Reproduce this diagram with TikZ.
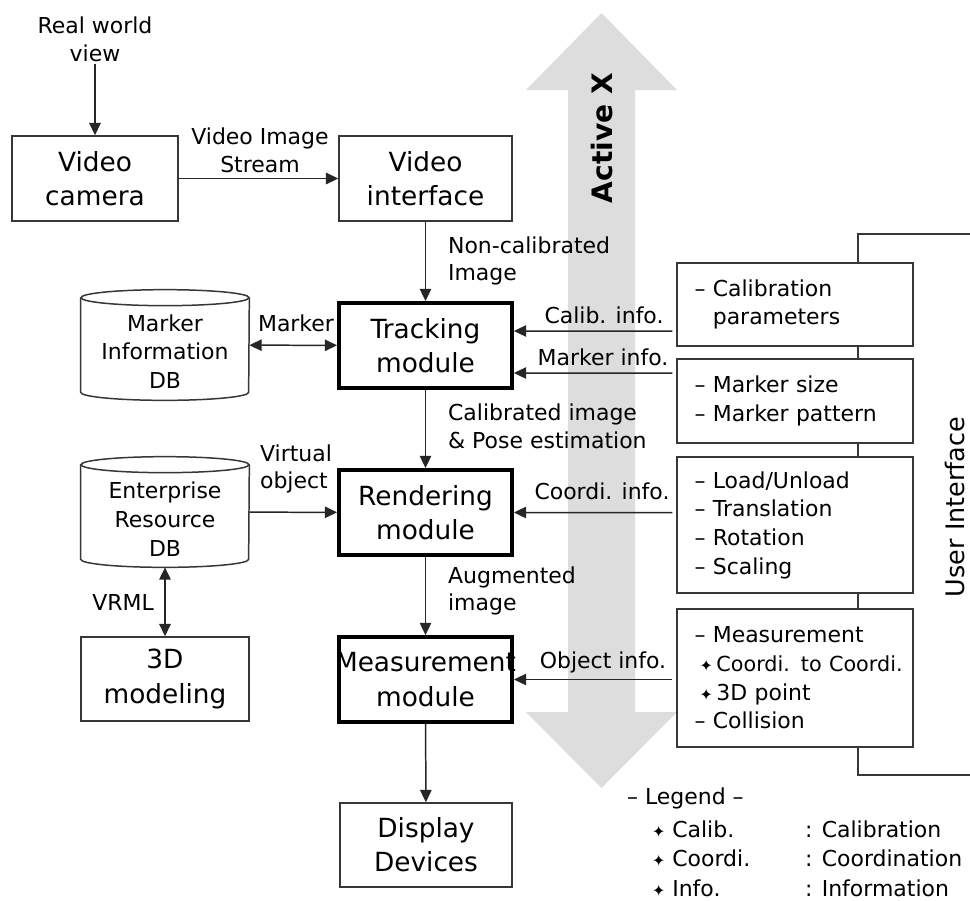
\documentclass[tikz,border=0pt]{standalone}
\usepackage{fontspec}
\setmainfont{DejaVu Sans}
\usetikzlibrary{arrows.meta,positioning,calc}
\definecolor{activex}{RGB}{221,221,221}
\definecolor{boxline}{RGB}{55,55,55}

\begin{document}
\begin{tikzpicture}[x=0.02cm, y=-0.02cm,
    box/.style={draw=boxline, line width=0.85pt, fill=white, align=center, inner sep=0pt,
      minimum width=3.46cm, minimum height=1.7cm, font=\fontsize{15}{19.5}\selectfont},
    module/.style={box, draw=black, line width=2.2pt},
    dbshape/.style={inner sep=0pt, minimum width=3.36cm, minimum height=2.2cm},
    dbtext/.style={align=center, inner sep=0pt, font=\fontsize{12.5}{16.4}\selectfont},
    uibox/.style={draw=boxline, line width=0.85pt, fill=white, minimum width=4.72cm,
      text width=4.02cm, inner xsep=0.35cm, inner ysep=0pt, align=left,
      font=\fontsize{12.5}{16.3}\selectfont},
    lbl/.style={align=left, inner sep=1pt, font=\fontsize{12.5}{15.8}\selectfont},
    lgd/.style={anchor=west, inner sep=1pt, font=\fontsize{12.5}{15}\selectfont},
    link/.style={draw=black!85, line width=0.85pt, -{Triangle[length=7pt,width=6.5pt]}},
    twoway/.style={link, {Triangle[length=7pt,width=6.5pt]}-{Triangle[length=7pt,width=6.5pt]}}
  ]

  % Page
  \fill[white] (0,0) rectangle (970,900);
  \useasboundingbox (0,0) rectangle (970,900);

  % Active X arrow
  \fill[activex] (601.5,13) -- (677,90) -- (635,90) -- (635,712) -- (677,712) -- (601.5,788)
    -- (526,712) -- (568,712) -- (568,90) -- (526,90) -- cycle;
  \node[rotate=90, font=\fontsize{16}{16}\selectfont\bfseries] (actx) at (602,138) {Active X};

  % User interface bracket
  \draw[boxline, line width=0.85pt] (975,234) -- (858,234) -- (858,775) -- (975,775);
  \node[rotate=90, inner sep=0pt, font=\fontsize{14.5}{14.5}\selectfont] (uif) at (955,507) {User Interface};

  % Main chain
  \node[lbl, align=center, font=\fontsize{12.5}{16}\selectfont] (rwv) at (95,39) {Real world\\view};
  \node[box, minimum width=3.32cm] (cam) at (95,178.5) {Video\\camera};
  \node[box] (vif) at (425.5,178.5) {Video\\interface};
  \node[module] (trk) at (425.5,345.5) {Tracking\\module};
  \node[module] (rnd) at (425.5,512.5) {Rendering\\module};
  \node[module] (msr) at (425.5,679.5) {\makebox[3.4cm]{Measurement}\\module};
  \node[box, minimum width=3.44cm, minimum height=1.68cm] (dsp) at (426,845) {Display\\Devices};

  % Databases
  \node[dbshape] (mdb) at (165,345) {};
  \node[dbtext] (mdbtxt) at (165,351.5) {Marker\\Information\\DB};
  \node[dbshape] (edb) at (165,512) {};
  \node[dbtext] (edbtxt) at (165,519) {Enterprise\\Resource\\DB};
  \foreach \db in {mdb,edb} {
    \draw[boxline, line width=0.85pt] ($(\db.north west)+(0,8)$) -- ($(\db.south west)+(0,-8)$)
      arc[start angle=180, end angle=360, x radius=1.68cm, y radius=0.16cm]
      -- ($(\db.north east)+(0,8)$);
    \draw[boxline, line width=0.85pt] ($(\db.north)+(0,8)$) ellipse[x radius=1.68cm, y radius=0.16cm];
  }
  \node[box, minimum width=3.36cm, minimum height=1.68cm] (mdl) at (165,679) {3D\\modeling};

  % Right panel
  \node[uibox, minimum height=1.66cm] (cal) at (795,304.5) {– Calibration\\\phantom{– }parameters};
  \node[uibox, minimum height=1.68cm] (mks) at (795,401) {– Marker size\\– Marker pattern};
  \node[uibox, minimum height=2.72cm] (lod) at (795,525) {– Load/Unload\\– Translation\\– Rotation\\– Scaling};
  \node[uibox, minimum height=2.76cm] (mea) at (795,678) {– Measurement\\
    \mbox{\hspace*{0.1cm}{\fontsize{9}{9}\selectfont ✦}\,{\fontsize{11.8}{16}\selectfont Coordi. to Coordi.}}\\
    \mbox{\hspace*{0.1cm}{\fontsize{9}{9}\selectfont ✦}\,3D point}\\– Collision};

  % Connectors
  \draw[link] (rwv) -- (cam);
  \draw[link] (cam) -- (vif);
  \draw[link] (vif) -- (trk);
  \draw[link] (trk) -- (rnd);
  \draw[link] (rnd) -- (msr);
  \draw[link] (msr) -- (dsp);
  \draw[twoway] (mdb) -- (trk);
  \draw[link] (edb) -- (rnd);
  \draw[twoway] (edb) -- (mdl);
  \draw[link] ($(cal.west)+(-4,26.5)$) -- ($(trk.east)+(0,-14.5)$);
  \draw[link] ($(mks.west)+(-4,-28)$) -- ($(trk.east)+(0,27.5)$);
  \draw[link] ($(lod.west)+(-4,-12.5)$) -- (rnd.east);
  \draw[link] ($(mea.west)+(-4,1.5)$) -- (msr.east);

  % Connector labels
  \node[lbl, align=center] (lstream) at (260,150) {Video Image\\Stream};
  \node[lbl, anchor=west] (lnoncal) at (446,261) {Non-calibrated\\Image};
  \node[lbl] (lmarker) at (296,323) {Marker};
  \node[lbl, anchor=west] (lcalpose) at (446,426) {Calibrated image\\\& Pose estimation};
  \node[lbl, anchor=west] (lvirt) at (258,469) {Virtual\\object};
  \node[lbl] (lvrml) at (123,602) {VRML};
  \node[lbl, anchor=west] (laug) at (446,591) {Augmented\\image};
  \node[lbl] (lcalib) at (604,315) {Calib. info.};
  \node[lbl] (lmkinfo) at (603,357) {Marker info.};
  \node[lbl] (lcoord) at (602,491) {Coordi. info.};
  \node[lbl] (lobj) at (603,662) {Object info.};

  % Legend
  \node[lgd] (lghead) at (625,798) {– Legend –};
  \foreach \abbr/\full [count=\i] in {Calib./Calibration, Coordi./Coordination, Info./Information} {
    \node[lgd] (lga\i) at (650,{799.5+29.5*\i}) {{\fontsize{9}{9}\selectfont ✦}~\abbr};
    \node[lgd] (lgb\i) at (803,{799.5+29.5*\i}) {: \full};
  }

\end{tikzpicture}
\end{document}
